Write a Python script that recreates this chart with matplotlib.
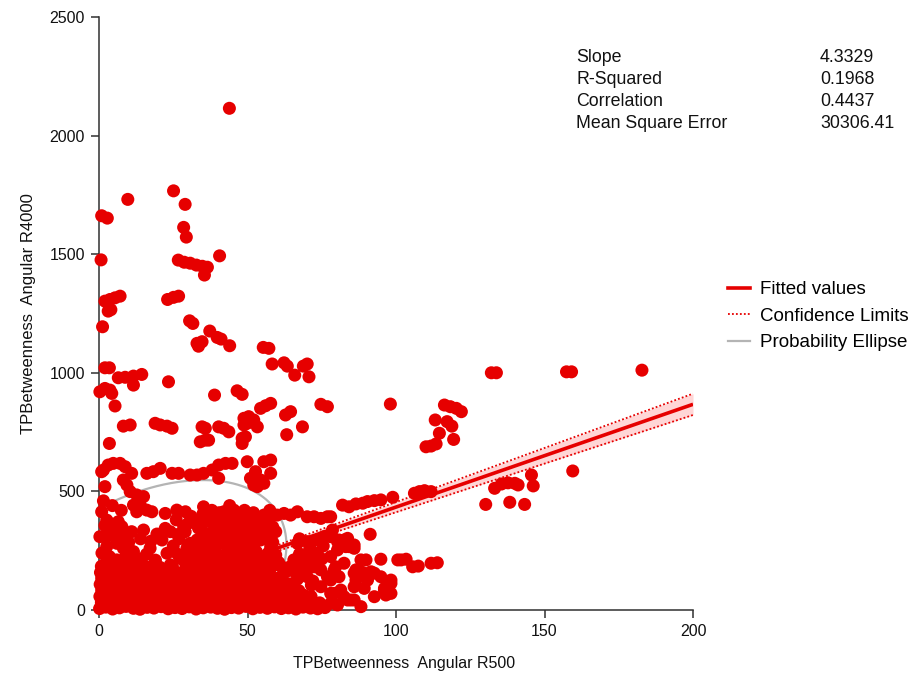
import numpy as np
import matplotlib
matplotlib.use("Agg")
import matplotlib.pyplot as plt
from matplotlib.lines import Line2D

plt.rcParams['font.family'] = ['Liberation Sans', 'DejaVu Sans']

# ---- regression summary -------------------------------------------------
slope = 4.3329
intercept = 0.5
r_squared = 0.1968
correlation = 0.4437
mse = 30306.41

stat_names = ["Slope", "R-Squared", "Correlation", "Mean Square Error"]
stat_values = ["4.3329", "0.1968", "0.4437", "30306.41"]

# confidence limits of the fitted line
conf_x = [0, 50, 100, 150, 200]
conf_lower = [-6, 207, 412, 617, 822]
conf_upper = [7, 227, 455, 683, 912]

# probability ellipse: centre and half-ranges along each axis
ellipse_center = (12.6, 54.6)
ellipse_half_x = 50.5
ellipse_half_y = 493.0

x_ticks = [0, 50, 100, 150, 200]
y_ticks = [0, 500, 1000, 1500, 2000, 2500]

# ---- observations (TPBetweenness Angular R500, R4000) -------------------
high_points = [
    (43.9, 2115), (25.1, 1767), (29.0, 1710), (9.7, 1731), (0.9, 1662), (2.8, 1652),
    (28.5, 1613), (29.4, 1572), (0.7, 1476), (40.6, 1493), (26.7, 1475), (28.7, 1466),
    (30.7, 1462), (32.8, 1454), (34.8, 1449), (36.5, 1445), (35.5, 1412), (2.0, 1302),
    (3.7, 1309), (5.4, 1316), (7.1, 1323), (3.1, 1260), (4.0, 1266), (1.2, 1194),
    (23.1, 1309), (25.1, 1318), (26.8, 1323), (30.5, 1219), (31.6, 1208), (37.3, 1176),
    (39.8, 1149), (41.1, 1142), (44.0, 1114), (33.0, 1124), (34.7, 1131), (33.5, 1112),
    (55.3, 1107), (57.2, 1103),
]

upper_mid_points = [
    (58.3, 1037), (62.3, 1042), (63.4, 1028), (65.9, 990), (68.8, 1028), (70.1, 1037),
    (70.7, 983), (2.0, 1021), (3.5, 1021), (6.5, 979), (8.8, 981), (11.6, 986),
    (14.4, 993), (11.6, 948), (0.3, 920), (2.0, 934), (3.7, 927), (4.3, 913),
    (23.4, 962), (5.4, 860), (38.9, 906), (46.5, 924), (48.2, 909), (54.4, 850),
    (56.1, 861), (57.8, 871), (62.8, 822), (64.5, 836), (74.7, 867), (76.9, 857),
    (68.5, 772), (63.2, 739), (48.8, 808), (50.4, 815), (52.1, 801), (53.3, 772),
    (48.8, 780), (49.9, 787), (48.2, 724), (49.3, 730), (8.2, 775), (10.5, 780),
    (18.9, 787), (20.6, 780), (22.9, 775), (24.6, 766), (34.7, 772), (35.8, 766),
    (40.3, 772), (42.0, 766), (43.7, 751), (34.1, 709), (35.8, 716), (36.9, 716),
    (3.5, 702), (48.2, 702), (98.1, 868),
]

mid_points = [
    (0.9, 583), (3.1, 611), (4.8, 618), (7.1, 618), (8.8, 604), (11.0, 576),
    (16.1, 576), (18.3, 583), (20.6, 597), (24.6, 576), (26.8, 576), (30.7, 569),
    (33.0, 569), (35.2, 576), (38.1, 590), (40.3, 611), (42.6, 618), (44.8, 618),
    (49.9, 625), (55.5, 625), (57.8, 632), (52.7, 583), (57.8, 576), (51.0, 555),
    (52.1, 527), (53.3, 520), (55.5, 534), (54.4, 548), (2.0, 520), (8.2, 548),
    (9.4, 527), (10.5, 499), (12.7, 485), (15.0, 478), (40.3, 555), (11.6, 442),
    (13.9, 442), (16.1, 421), (17.8, 414), (12.7, 414), (22.3, 407), (26.2, 421),
    (29.1, 414), (35.2, 435), (42.0, 414), (45.4, 421), (43.7, 393), (0.9, 414),
    (2.6, 379), (3.7, 365), (6.5, 372), (7.7, 351), (1.5, 590),
    (1.5, 460), (4.5, 440), (7.5, 420), (2.0, 356), (46.0, 410), (49.0, 420),
    (52.0, 410), (31.0, 395), (26.0, 380),
]

right_points = [
    (132.1, 1000), (133.8, 1000), (157.4, 1004), (159.1, 1004), (182.8, 1011),
    (116.3, 864), (118.3, 857), (120.3, 850), (122.0, 836), (113.2, 801), (117.2, 794),
    (118.8, 775), (114.6, 745), (119.4, 719), (110.1, 688), (111.8, 691), (113.5, 700),
    (159.5, 586), (145.6, 569), (146.2, 523), (133.2, 513), (135.5, 531), (137.7, 536),
    (140.0, 534), (141.1, 527), (130.2, 445), (138.3, 454), (143.3, 445), (82.0, 442),
    (84.2, 435), (86.5, 447), (88.8, 450), (90.4, 457), (92.7, 461), (94.9, 464),
    (98.9, 475), (106.2, 492), (107.9, 499), (109.6, 503), (111.8, 499),
]

lower_mid_points = [
    (35.8, 372), (37.5, 372), (39.8, 386), (42.0, 386), (44.3, 379), (46.5, 372),
    (48.8, 365), (51.0, 379), (53.3, 386), (55.5, 400), (57.8, 393), (60.0, 400),
    (62.3, 407), (64.5, 400), (66.8, 414), (70.1, 393), (72.4, 393), (74.7, 386),
    (76.9, 393), (35.2, 323), (37.5, 323), (39.8, 344), (42.0, 337), (44.3, 316),
    (46.5, 316), (48.8, 330), (51.0, 344), (53.3, 337), (55.5, 330), (30.7, 281),
    (33.0, 295), (35.2, 267), (37.5, 253), (40.9, 281), (44.3, 267), (46.5, 260),
    (48.8, 281), (52.1, 267), (54.4, 295), (57.8, 267), (58.5, 285), (67.5, 300),
    (66.8, 281), (70.1, 288), (73.5, 295), (75.8, 309), (78.0, 309), (80.8, 295),
    (31.9, 225), (34.1, 211), (36.4, 232), (39.8, 218), (42.0, 211), (45.4, 225),
    (48.8, 232), (51.0, 218), (55.5, 225), (59.5, 232), (67.5, 236), (69.0, 232),
    (73.5, 239), (78.0, 225), (80.3, 253),
    (0.3, 309), (2.6, 309), (5.4, 323), (8.2, 309), (11.0, 330), (15.0, 337),
    (2.6, 267), (6.0, 281), (8.2, 260), (11.6, 246), (17.2, 260), (21.2, 295),
    (22.3, 344), (22.9, 239), (6.0, 211), (29.6, 260), (30.7, 232), (29.1, 197),
    (27.4, 218),
    (78.0, 393), (78.6, 337), (83.7, 302), (83.1, 267), (85.9, 274), (91.3, 319),
    (88.2, 211), (89.9, 211), (94.9, 214), (101.7, 211), (103.4, 214), (105.6, 182),
    (107.5, 185), (111.8, 197), (113.9, 199), (80.3, 288), (82.5, 295), (84.2, 267),
    (85.9, 260), (100.6, 211),
    (28.5, 352), (33.5, 345), (56.0, 372), (58.5, 350), (59.5, 330), (27.0, 300),
    (25.0, 270), (24.0, 330), (38.5, 300), (41.5, 305), (43.0, 240), (47.5, 245),
    (50.0, 300), (53.0, 245), (34.0, 245), (37.0, 200), (40.5, 195), (45.0, 200),
    (48.0, 195), (52.0, 198), (55.0, 200), (58.0, 195), (67.0, 205), (71.0, 212),
    (75.0, 215), (71.0, 262), (75.5, 270),
    (1.0, 240), (3.5, 225), (9.0, 225), (13.5, 215), (16.0, 235), (19.0, 210),
    (4.0, 350), (10.0, 285), (14.0, 300), (19.5, 320), (17.5, 290),
    (26.5, 235), (32.5, 262), (36.0, 285), (39.0, 262), (42.5, 292), (45.5, 290),
    (49.5, 258), (52.5, 312), (56.5, 300), (38.0, 235), (41.0, 228), (46.5, 210),
    (50.5, 238), (54.0, 210), (57.0, 240), (33.0, 190), (29.5, 178), (44.0, 185),
    (60.5, 200), (64.0, 180), (62.0, 150), (66.0, 160), (69.5, 175), (35.0, 405),
    (38.0, 420), (40.5, 410), (33.5, 372), (30.0, 365), (29.0, 330), (26.5, 318),
    (47.0, 345), (44.5, 350), (49.5, 395), (53.0, 360), (55.5, 355), (57.5, 420),
    (44.0, 440), (37.0, 398), (24.0, 190), (20.5, 180), (15.5, 185), (7.0, 185),
    (11.5, 200), (2.5, 205),
]

sparse_low_points = [
    (65.6, 211), (67.9, 197), (72.4, 182), (74.7, 169), (76.9, 140), (70.1, 140),
    (74.7, 98), (79.2, 70), (82.5, 56), (84.8, 42), (88.2, 14), (85.9, 98),
    (90.4, 126), (92.7, 155), (94.9, 140), (98.3, 112), (98.3, 70), (92.7, 56),
    (96.1, 84), (79.2, 169), (82.5, 197), (85.9, 155), (89.3, 155), (79.7, 182),
    (80.8, 140), (78.0, 126), (86.5, 169), (88.2, 161), (91.6, 161), (86.5, 126),
    (89.3, 91), (96.1, 91), (97.2, 119), (98.3, 126), (96.6, 63), (81.4, 84),
    (78.0, 70), (83.7, 42), (85.9, 42), (80.3, 21), (78.0, 28),
    (66.8, 130), (69.4, 150), (72.0, 122), (63.5, 165), (67.0, 175), (71.5, 105),
]

dense_points = [
    (0.2, 6), (2.3, 12), (4.6, 4), (6.9, 9), (9.1, 15), (11.6, 7), (13.8, 3), (16.2, 11),
    (18.5, 8), (20.9, 14), (23.3, 5), (25.6, 10), (28.0, 6), (30.4, 13), (32.7, 4),
    (35.1, 9), (37.6, 12), (39.9, 7), (42.3, 3), (44.6, 10), (47.0, 8), (49.5, 15),
    (51.8, 5), (54.2, 11), (56.7, 7), (59.1, 13), (61.4, 6), (63.8, 9), (66.3, 4),
    (68.7, 12), (71.2, 8), (73.6, 5), (76.1, 10),
    (0.8, 31), (3.1, 38), (5.5, 29), (7.8, 35), (10.2, 41), (12.5, 30), (14.9, 36),
    (17.3, 33), (19.6, 40), (22.0, 28), (24.4, 37), (26.7, 32), (29.1, 39), (31.5, 30),
    (33.9, 35), (36.2, 42), (38.6, 31), (41.0, 37), (43.4, 29), (45.8, 34), (48.1, 40),
    (50.5, 32), (52.9, 36), (55.3, 30), (57.6, 38), (60.0, 33), (62.4, 29), (64.8, 36),
    (67.1, 31), (69.5, 39), (71.9, 34), (74.3, 30),
    (0.3, 57), (2.6, 63), (5.0, 54), (7.3, 60), (9.7, 66), (12.1, 55), (14.4, 61),
    (16.8, 58), (19.2, 64), (21.5, 53), (23.9, 62), (26.3, 57), (28.6, 65), (31.0, 54),
    (33.4, 60), (35.7, 66), (38.1, 56), (40.5, 62), (42.9, 53), (45.2, 59), (47.6, 65),
    (50.0, 57), (52.3, 61), (54.7, 55), (57.1, 63), (59.4, 58), (61.8, 54), (64.2, 60),
    (66.6, 56), (69.0, 62), (71.4, 57),
    (0.9, 83), (3.2, 89), (5.6, 79), (7.9, 86), (10.3, 92), (12.7, 80), (15.0, 87),
    (17.4, 84), (19.8, 90), (22.1, 78), (24.5, 88), (26.9, 82), (29.2, 91), (31.6, 79),
    (34.0, 85), (36.3, 92), (38.7, 81), (41.1, 87), (43.5, 78), (45.8, 84), (48.2, 90),
    (50.6, 82), (52.9, 86), (55.3, 80), (57.7, 88), (60.1, 83), (62.4, 79), (64.8, 86),
    (67.3, 81),
    (0.4, 108), (2.7, 114), (5.1, 104), (7.4, 111), (9.8, 117), (12.2, 105), (14.5, 112),
    (16.9, 109), (19.3, 115), (21.6, 103), (24.0, 113), (26.4, 107), (28.7, 116),
    (31.1, 104), (33.5, 110), (35.8, 117), (38.2, 106), (40.6, 112), (43.0, 103),
    (45.3, 109), (47.7, 115), (50.1, 107), (52.4, 111), (54.8, 105), (57.2, 113),
    (59.6, 108), (62.0, 104), (64.4, 110),
    (0.9, 134), (3.3, 140), (5.6, 130), (8.0, 137), (10.4, 143), (12.7, 131), (15.1, 138),
    (17.5, 135), (19.8, 141), (22.2, 129), (24.6, 139), (27.0, 133), (29.3, 142),
    (31.7, 130), (34.1, 136), (36.4, 143), (38.8, 132), (41.2, 138), (43.6, 129),
    (45.9, 135), (48.3, 141), (50.7, 133), (53.0, 137), (55.4, 131), (57.8, 139),
    (60.2, 134),
    (0.5, 158), (2.9, 164), (5.2, 154), (7.6, 161), (10.0, 167), (12.3, 155), (14.7, 162),
    (17.1, 159), (19.4, 165), (21.8, 153), (24.2, 163), (26.5, 157), (28.9, 166),
    (31.3, 154), (33.7, 160), (36.0, 167), (38.4, 156), (40.8, 162), (43.2, 153),
    (45.5, 159), (47.9, 165), (50.3, 157), (52.6, 161), (55.0, 155), (57.4, 163),
    (0.8, 184), (4.0, 190), (9.5, 181), (13.2, 188), (18.0, 183), (24.7, 186),
    (33.5, 182), (36.8, 190), (39.6, 185), (42.5, 193), (45.1, 181), (47.8, 188),
    (50.6, 184), (53.4, 191), (56.2, 183), (59.0, 189), (61.7, 180),
]

groups = [high_points, upper_mid_points, mid_points, right_points,
          lower_mid_points, sparse_low_points, dense_points]
pts = np.array([p for g in groups for p in g], dtype=float)

RED = '#e60000'
GREY = '#b4b4b4'
AXIS = '#303030'

fig = plt.figure(figsize=(9.2, 6.74), dpi=100)
ax = fig.add_axes([0.1076, 0.0950, 0.6457, 0.8798])
ax.set_xlim(0, 200)
ax.set_ylim(0, 2500)

# confidence band and limits
ax.fill_between(conf_x, conf_lower, conf_upper, color='#ffd6d6', lw=0, zorder=1)
ax.plot(conf_x, conf_lower, color=RED, lw=1.3, ls=(0, (1, 1.2)), zorder=1.5)
ax.plot(conf_x, conf_upper, color=RED, lw=1.3, ls=(0, (1, 1.2)), zorder=1.5)

# fitted line
fx = np.array([0.0, 200.0])
ax.plot(fx, slope * fx + intercept, color=RED, lw=2.6, solid_capstyle='butt', zorder=1.6)

# probability ellipse
t = np.linspace(0, 2 * np.pi, 500)
r = correlation
ex = ellipse_center[0] + ellipse_half_x * np.cos(t)
ey = ellipse_center[1] + ellipse_half_y * (r * np.cos(t) + np.sqrt(1 - r ** 2) * np.sin(t))
ax.plot(ex, ey, color=GREY, lw=1.6, zorder=1.2)

# observations
ax.scatter(pts[:, 0], pts[:, 1], s=88, color=RED, edgecolors='none', zorder=3, clip_on=False)

for side in ('top', 'right'):
    ax.spines[side].set_visible(False)
for side in ('left', 'bottom'):
    ax.spines[side].set_color(AXIS)
    ax.spines[side].set_linewidth(1.1)
ax.set_xticks(x_ticks)
ax.set_yticks(y_ticks)
ax.tick_params(direction='out', length=6, width=1.1, color=AXIS,
               labelsize=11.5, labelcolor='#111111', pad=4)

ax.set_xlabel('TPBetweenness  Angular R500', fontsize=11.5, color='#111111',
              labelpad=12, x=0.5135)
ax.set_ylabel('TPBetweenness  Angular R4000', fontsize=12, color='#111111', labelpad=10)

# statistics table
for i, (name, val) in enumerate(zip(stat_names, stat_values)):
    yy = 1 - (57 + 22 * i) / 674
    fig.text(576 / 920, yy, name, fontsize=12.8, va='center', ha='left', color='#111111')
    fig.text(820 / 920, yy, val, fontsize=12.8, va='center', ha='left', color='#111111')

# legend
handles = [
    Line2D([], [], color=RED, lw=2.6),
    Line2D([], [], color=RED, lw=1.3, ls=(0, (1, 1.2))),
    Line2D([], [], color=GREY, lw=1.6),
]
labels = ['Fitted values', 'Confidence Limits', 'Probability Ellipse']
fig.legend(handles, labels, loc='upper left', bbox_to_anchor=(728 / 920, 1 - 281 / 674),
           frameon=False, fontsize=13.5, handlelength=1.2, handletextpad=0.5,
           labelspacing=0.5, borderaxespad=0, borderpad=0)

fig.savefig('out.png', dpi=100)
